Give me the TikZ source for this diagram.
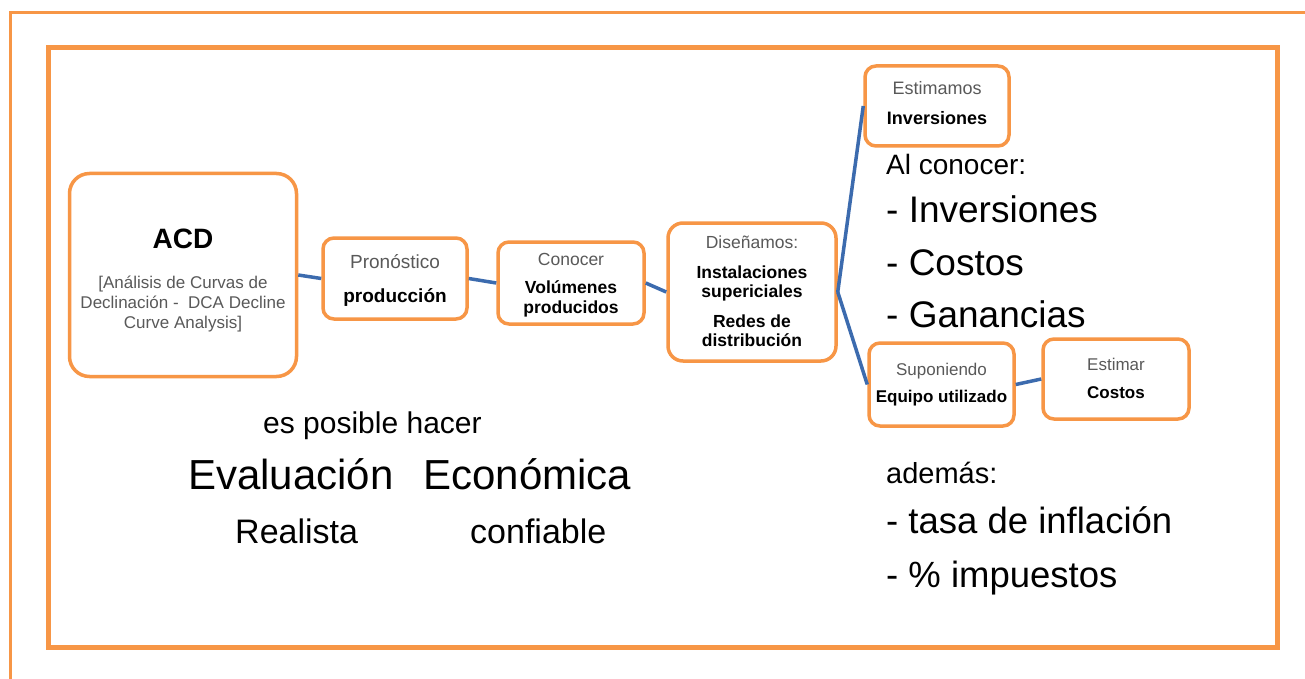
\documentclass[tikz,border=0pt]{standalone}
\usepackage{fontspec}
\setmainfont{Liberation Sans}
\definecolor{orng}{HTML}{F79646}
\definecolor{lnblue}{HTML}{3C6BAE}
\definecolor{gtxt}{HTML}{595959}
\makeatletter
\newcommand{\stk}[2]{\vtop{\baselineskip=#1\lineskiplimit=-100pt\lineskip=0pt\ialign{\hfil##\hfil\cr#2\crcr}}}
\makeatother
\newcommand{\gl}[1]{{\color{gtxt}#1}}
\tikzset{
  box/.style={draw=orng, line width=3.5pt, rounded corners=11pt, fill=white, inner sep=0pt, text height=0pt},
  conn/.style={draw=lnblue, line width=3.5pt},
  txt/.style={anchor=base west, inner sep=0pt, text=black},
}
\begin{document}
\begin{tikzpicture}[x=1pt,y=-1pt]
\useasboundingbox (0,0) rectangle (1305,679);
\fill[white] (0,0) rectangle (1305,679);
% frames
\draw[orng, line width=3pt] (10,679) -- (10,13) -- (1305,13);
\draw[orng, line width=5pt] (48,48) rectangle (1277,647);

% boxes
\node[box, rounded corners=20pt, minimum width=227pt, minimum height=203pt, text depth=54pt,
      font=\fontsize{17}{20}\selectfont] (acd) at (183,275)
  {\stk{20pt}{{\fontsize{28}{30}\selectfont\bfseries ACD}\cr\noalign{\vskip20pt}\gl{[Análisis de Curvas de}\cr\gl{Declinación -\ \ DCA Decline}\cr\gl{Curve Analysis]}}};
\node[box, minimum width=144pt, minimum height=81pt, text depth=21pt,
      font=\fontsize{19}{20}\selectfont] (pron) at (395,278.5)
  {\stk{34pt}{\gl{Pronóstico}\cr\textbf{producción}}};
\node[box, minimum width=146pt, minimum height=82pt, text depth=36pt,
      font=\fontsize{17.5}{20}\selectfont] (cono) at (571,283)
  {\stk{20pt}{\gl{Conocer}\cr\noalign{\vskip8pt}\textbf{Volúmenes}\cr\textbf{producidos}}};
\node[box, rounded corners=15pt, minimum width=168pt, minimum height=138pt, text depth=88pt,
      font=\fontsize{17.5}{20}\selectfont] (dise) at (752,292)
  {\stk{19pt}{\gl{Diseñamos:}\cr\noalign{\vskip11pt}\textbf{Instalaciones}\cr\textbf{supericiales}\cr\noalign{\vskip11pt}\textbf{Redes de}\cr\textbf{distribución}}};
\node[box, minimum width=144pt, minimum height=80pt, text depth=22pt,
      font=\fontsize{18}{20}\selectfont] (estim) at (937,106)
  {\stk{30pt}{\gl{Estimamos}\cr\textbf{Inversiones}}};
\node[box, minimum width=145pt, minimum height=83pt, text depth=19pt,
      font=\fontsize{17}{20}\selectfont] (supon) at (941.5,384.5)
  {\stk{27pt}{\gl{Suponiendo}\cr\textbf{Equipo utilizado}}};
\node[box, minimum width=146pt, minimum height=80pt, text depth=18pt,
      font=\fontsize{17}{20}\selectfont] (estimar) at (1116,379)
  {\stk{28pt}{\gl{Estimar}\cr\textbf{Costos}}};

% connectors
\draw[conn] (acd.east) -- (pron.west);
\draw[conn] (pron.east) -- (cono.west);
\draw[conn] (cono.east) -- (dise.west);
\draw[conn] (dise.east) -- (estim.west);
\draw[conn] (dise.east) -- (supon.west);
\draw[conn] (supon.east) -- (estimar.west);

% free texts
\node[txt, font=\fontsize{28}{30}\selectfont] (alc) at (886,175) {Al conocer:};
\node[txt, font=\fontsize{37}{40}\selectfont] (inv) at (886,222) {- Inversiones};
\node[txt, font=\fontsize{37}{40}\selectfont] (cos) at (886,275) {- Costos};
\node[txt, font=\fontsize{37}{40}\selectfont] (gan) at (886,327) {- Ganancias};
\node[txt, font=\fontsize{30}{32}\selectfont] (esp) at (263,433) {es posible hacer};
\node[txt, font=\fontsize{42}{44}\selectfont] (eva) at (188,489) {Evaluación\hspace{30pt}Económica};
\node[txt, font=\fontsize{34}{36}\selectfont] (rea) at (235,543) {Realista};
\node[txt, font=\fontsize{34}{36}\selectfont] (conf) at (470,543) {confiable};
\node[txt, font=\fontsize{29}{31}\selectfont] (adem) at (886,483) {además:};
\node[txt, font=\fontsize{36.5}{38}\selectfont] (tasa) at (886,533) {- tasa de inflación};
\node[txt, font=\fontsize{36.5}{38}\selectfont] (imp) at (886,587) {- \% impuestos};
\end{tikzpicture}
\end{document}
